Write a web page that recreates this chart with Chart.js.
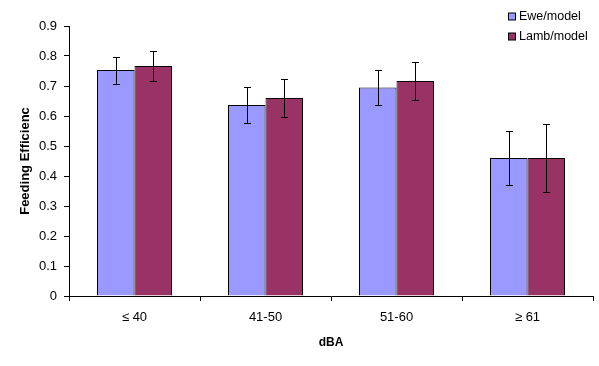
<!DOCTYPE html>
<html>
<head>
<meta charset="utf-8">
<script src="https://cdn.jsdelivr.net/npm/chart.js@4/dist/chart.umd.min.js"></script>
<style>
  body { margin: 0; background: #fff; }
  #wrap { width: 599px; height: 366px; }
</style>
</head>
<body>
<div id="wrap"><canvas id="grafica" width="599" height="366"></canvas></div>
<script>
// Datos del gráfico
const categorias = ["\u2264 40", "41-50", "51-60", "\u2265 61"];
const oveja = [0.753, 0.637, 0.695, 0.460];
const ovejaError = [0.045, 0.060, 0.057, 0.090];
const cordero = [0.767, 0.660, 0.717, 0.460];
const corderoError = [0.050, 0.063, 0.062, 0.112];
const ticksY = [0, 0.1, 0.2, 0.3, 0.4, 0.5, 0.6, 0.7, 0.8, 0.9];

const errores = [ovejaError, corderoError];

// Plugin para las barras de error
const barrasError = {
    id: 'barrasError',
    afterDatasetsDraw(chart) {
        const ctx = chart.ctx;
        const y = chart.scales.y;
        ctx.save();
        ctx.strokeStyle = '#000';
        ctx.lineWidth = 1;
        chart.data.datasets.forEach((ds, i) => {
            const meta = chart.getDatasetMeta(i);
            meta.data.forEach((barra, j) => {
                const v = ds.data[j], e = errores[i][j];
                const x = Math.round(barra.x) + 0.5;
                const arriba = Math.round(y.getPixelForValue(v + e)) + 0.5;
                const abajo = Math.round(y.getPixelForValue(v - e)) + 0.5;
                ctx.beginPath();
                ctx.moveTo(x, arriba); ctx.lineTo(x, abajo);
                ctx.moveTo(x - 3.5, arriba); ctx.lineTo(x + 3.5, arriba);
                ctx.moveTo(x - 3.5, abajo); ctx.lineTo(x + 3.5, abajo);
                ctx.stroke();
            });
        });
        ctx.restore();
    }
};

// Leyenda propia (vertical, arriba a la derecha)
const leyenda = {
    id: 'leyenda',
    afterDraw(chart) {
        const ctx = chart.ctx;
        ctx.save();
        ctx.font = '12.5px "Liberation Sans", Arial, sans-serif';
        ctx.textBaseline = 'middle';
        chart.data.datasets.forEach((ds, i) => {
            const yy = 16.5 + i * 20;
            ctx.fillStyle = ds.backgroundColor;
            ctx.fillRect(508.5, yy - 3.5, 7, 7);
            ctx.strokeStyle = '#000';
            ctx.strokeRect(508.5, yy - 3.5, 7, 7);
            ctx.fillStyle = '#000';
            ctx.fillText(ds.label, 519, yy);
        });
        ctx.restore();
    }
};

const fuente = { family: '"Liberation Sans", Arial, sans-serif', size: 13 };

new Chart(document.getElementById('grafica'), {
    type: 'bar',
    data: {
        labels: categorias,
        datasets: [
            { label: 'Ewe/model', data: oveja, backgroundColor: '#9999FF', borderColor: '#000', borderWidth: 1 },
            { label: 'Lamb/model', data: cordero, backgroundColor: '#993366', borderColor: '#000', borderWidth: 1 }
        ]
    },
    options: {
        responsive: false,
        animation: false,
        categoryPercentage: 0.5725,
        barPercentage: 1,
        layout: { padding: { left: 0, right: 6, top: 26, bottom: 0 } },
        plugins: { legend: { display: false }, tooltip: { enabled: false } },
        scales: {
            x: {
                grid: { drawOnChartArea: false, tickLength: 5, color: '#000', offset: true },
                border: { color: '#000' },
                ticks: { color: '#000', font: fuente, padding: 9 },
                title: { display: true, text: 'dBA', color: '#000', font: { family: fuente.family, size: 12, weight: 'bold' }, padding: { top: 0, bottom: 16 } },
                afterFit(s) { s.height = 70; }
            },
            y: {
                min: 0, max: 0.9,
                afterBuildTicks(s) { s.ticks = ticksY.map(v => ({ value: v })); },
                grid: { drawOnChartArea: false, tickLength: 5, color: '#000' },
                border: { color: '#000' },
                ticks: { color: '#000', font: fuente, padding: 7, callback: v => String(Math.round(v * 10) / 10) },
                title: { display: true, text: 'Feeding Efficienc', color: '#000', font: { family: fuente.family, size: 13, weight: 'bold' }, padding: { top: 18, bottom: 0 } },
                afterFit(s) { s.width = 69; }
            }
        }
    },
    plugins: [barrasError, leyenda]
});
</script>
</body>
</html>
